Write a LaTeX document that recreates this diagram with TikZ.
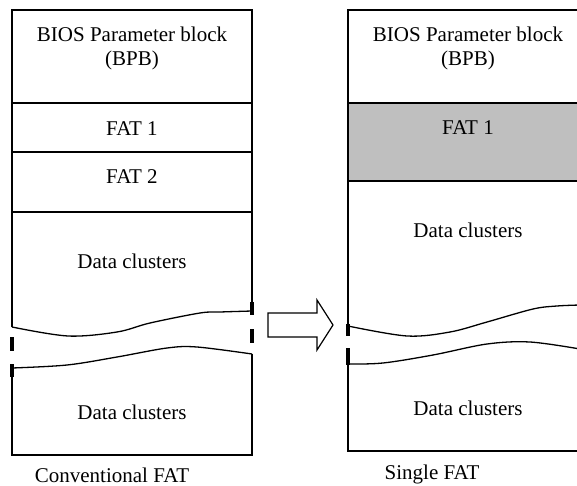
\documentclass[tikz,border=0pt]{standalone}
\usepackage{fontspec}
\setmainfont{Liberation Serif}
\begin{document}
\begin{tikzpicture}[x=1pt,y=-1pt,
  lab/.style={font=\fontsize{21}{24}\selectfont, inner sep=0pt, align=center},
  edge/.style={line width=1.3pt, line cap=butt},
  brk/.style={line width=3.2pt},
  wave/.style={line width=1.3pt, line join=round}]
\useasboundingbox (0,0) rectangle (577,486);
\clip (0,0) rectangle (577,486);
% ---------- left column: conventional FAT ----------
\draw[edge] (12,327) -- (12,10) -- (252,10) -- (252,302);
\draw[edge] (12,103) -- (252,103);
\draw[edge] (12,152) -- (252,152);
\draw[edge] (12,212) -- (252,212);
\draw[brk] (252,302) -- (252,315);
\draw[brk] (12,337) -- (12,351);
\draw[brk] (252,329) -- (252,343);
\draw[brk] (12,364) -- (12,377);
\draw[wave] plot[smooth, tension=0.55] coordinates {(12,327) (68,336) (117,332) (150,323) (200,313) (220,312) (252,311)};
\draw[wave] plot[smooth, tension=0.55] coordinates {(12,368) (67,365) (117,357) (167,348) (197,347) (252,354)};
\draw[edge] (252,354) -- (252,455) -- (12,455) -- (12,377);
\node[lab] (bpbL) at (132,48) {BIOS Parameter block\\(BPB)};
\node[lab] (fat1L) at (132,129) {FAT 1};
\node[lab] (fat2L) at (132,177) {FAT 2};
\node[lab] (dataL1) at (132,261) {Data clusters};
\node[lab] (dataL2) at (132,412) {Data clusters};
\node[lab] (capL) at (112,475) {Conventional FAT};
% ---------- arrow ----------
\draw[line width=1.2pt, line join=miter] (268,313) -- (317,313) -- (317,300) -- (333,325) -- (317,350) -- (317,337) -- (268,337) -- cycle;
% ---------- right column: single FAT ----------
\fill[gray!50] (348,103) rectangle (600,181);
\draw[edge] (348,325) -- (348,10) -- (600,10);
\draw[edge] (348,103) -- (600,103);
\draw[edge] (348,181) -- (600,181);
\draw[brk] (348,324) -- (348,336);
\draw[brk] (348,348) -- (348,365);
\draw[wave] plot[smooth, tension=0.55] coordinates {(348,326) (407,336) (450,332) (487,322) (533,309) (557,306) (580,305)};
\draw[wave] plot[smooth, tension=0.55] coordinates {(348,364) (383,363) (433,355) (487,344) (530,342) (580,349)};
\draw[edge] (348,364) -- (348,451) -- (600,451);
\node[lab] (bpbR) at (468,48) {BIOS Parameter block\\(BPB)};
\node[lab] (fat1R) at (468,128) {FAT 1};
\node[lab] (dataR1) at (468,230) {Data clusters};
\node[lab] (dataR2) at (468,408) {Data clusters};
\node[lab] (capR) at (432,474) {Single FAT};
\end{tikzpicture}
\end{document}
